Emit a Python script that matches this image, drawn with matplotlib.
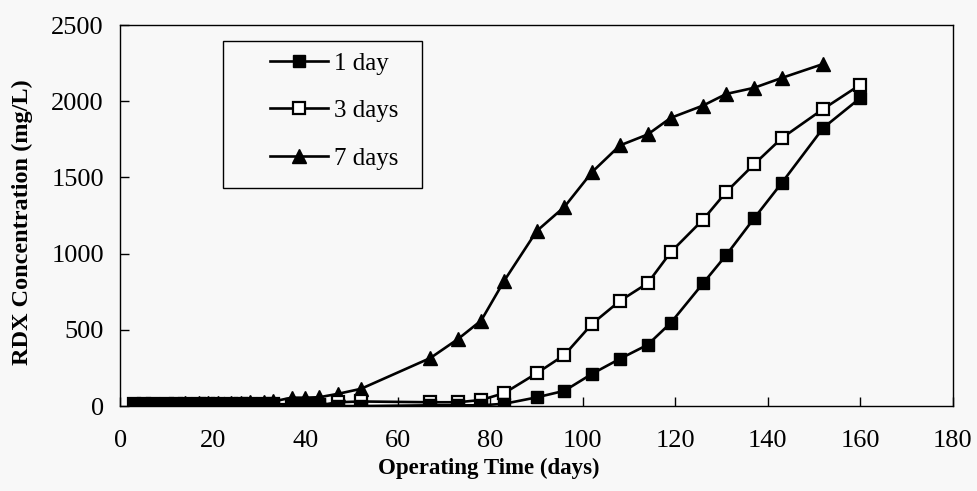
import numpy as np
import matplotlib
matplotlib.use("Agg")
import matplotlib.pyplot as plt
from matplotlib.patches import Rectangle

plt.rcParams["font.family"] = ["Liberation Serif", "DejaVu Serif"]

# sampling days (7-day series stops at 152)
days = [3, 5, 7, 10, 12, 14, 17, 19, 21, 24, 26, 28, 31, 33, 37, 40, 43, 47, 52,
        67, 73, 78, 83, 90, 96, 102, 108, 114, 119, 126, 131, 137, 143, 152, 160]
days_7 = days[:-1]

rdx_1day = [12, 12, 12, 12, 12, 12, 12, 12, 12, 12, 12, 12, 12, 12, 12, 12, 12, 0, 0,
            5, 5, 5, 15, 57, 100, 212, 310, 402, 546, 806, 991, 1231, 1464, 1826, 2022]
rdx_3day = [14, 14, 14, 14, 14, 14, 14, 14, 14, 14, 14, 14, 14, 14, 5, 5, 5, 25, 30,
            25, 25, 40, 85, 215, 335, 540, 690, 806, 1010, 1224, 1405, 1586, 1758, 1950, 2109]
rdx_7day = [15, 15, 15, 16, 16, 18, 18, 20, 20, 22, 22, 25, 25, 30, 55, 55, 58, 80, 113,
            315, 440, 561, 823, 1148, 1307, 1536, 1710, 1782, 1891, 1972, 2048, 2088, 2153, 2245]

labels = ["1 day", "3 days", "7 days"]

bg = "#f8f8f8"
fig = plt.figure(figsize=(9.77, 4.91), dpi=100)
fig.patch.set_facecolor(bg)
ax = fig.add_axes([0.1233, 0.173, 0.852, 0.776])
ax.set_facecolor(bg)

lw = 1.9
ax.plot(days_7, rdx_7day, "-^", color="black", lw=lw, ms=10, mfc="black", mec="black",
        label=labels[2], zorder=2)
ax.plot(days, rdx_3day, "-s", color="black", lw=lw, ms=8.5, mfc="white", mec="black",
        mew=1.6, label=labels[1], zorder=3)
ax.plot(days, rdx_1day, "-s", color="black", lw=lw, ms=8.5, mfc="black", mec="black",
        label=labels[0], zorder=4)

ax.set_xlim(0, 180)
ax.set_ylim(0, 2500)
ax.set_xticks(np.arange(0, 181, 20))
ax.set_yticks(np.arange(0, 2501, 500))
ax.tick_params(axis="both", direction="in", length=6.5, width=1, labelsize=19)
ax.tick_params(axis="x", pad=17)
ax.tick_params(axis="y", pad=12)
for s in ax.spines.values():
    s.set_linewidth(1)

ax.set_xlabel("Operating Time (days)", fontsize=16.5, fontweight="bold")
ax.set_ylabel("RDX Concentration (mg/L)", fontsize=17.5, fontweight="bold")
ax.xaxis.set_label_coords(0.443, -0.136)
ax.yaxis.set_label_coords(-0.105, 0.483)

# legend box drawn separately so the padding can match the original
ax.add_patch(Rectangle((0.123, 0.572), 0.239, 0.386, transform=ax.transAxes,
                       facecolor=bg, edgecolor="black", lw=1, zorder=5))
handles, labs = ax.get_legend_handles_labels()
order = [2, 1, 0]
leg = ax.legend([handles[i] for i in order], [labs[i] for i in order],
                loc="upper left", bbox_to_anchor=(0.18, 0.929), fontsize=18,
                frameon=False, handlelength=2.3, handletextpad=0.25,
                labelspacing=1.0, borderpad=0, borderaxespad=0)
leg.set_zorder(6)

fig.savefig("out.png", dpi=100, facecolor=fig.get_facecolor())
